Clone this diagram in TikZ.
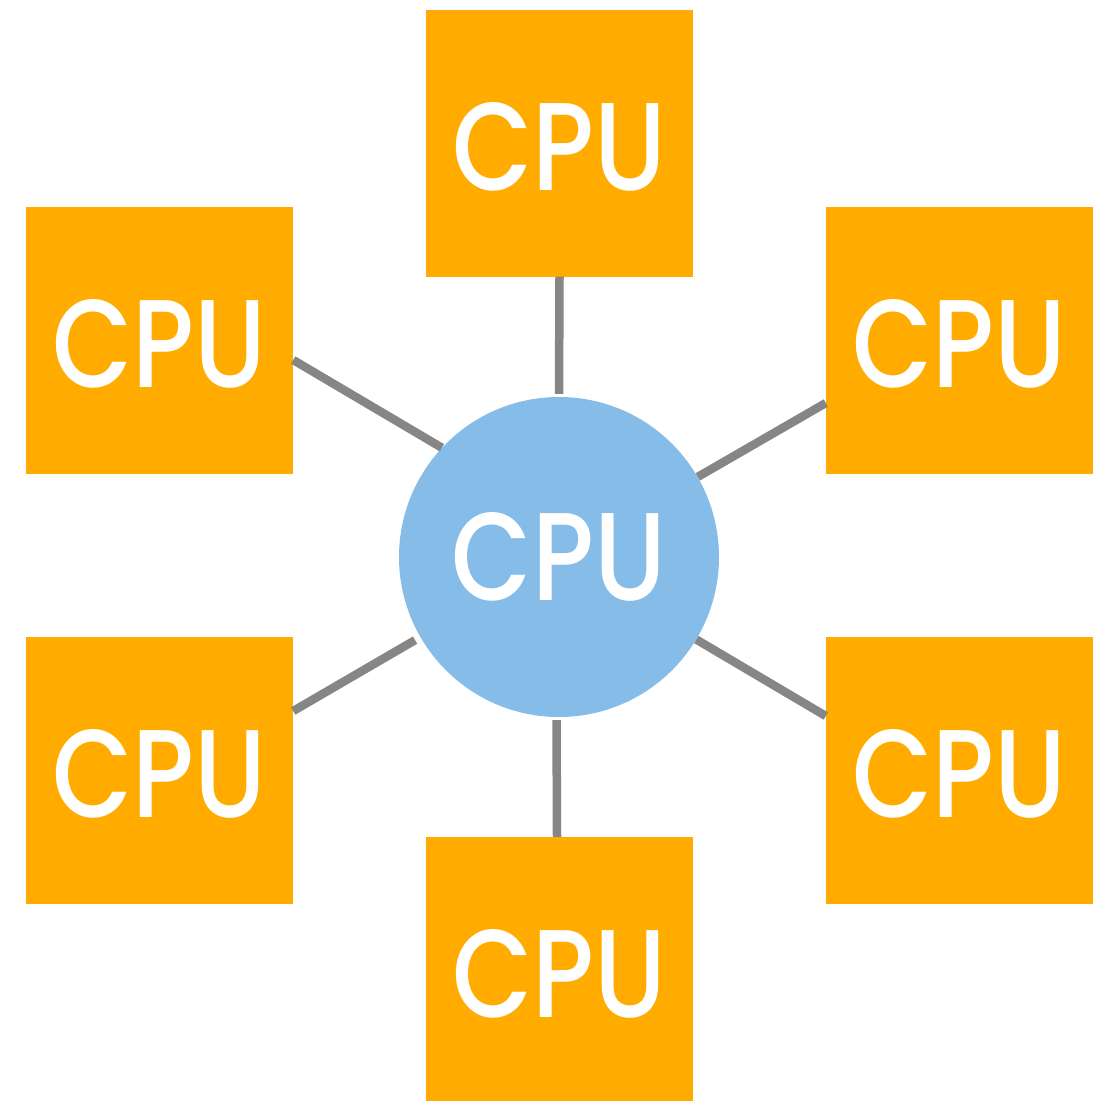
\documentclass[tikz,border=0pt]{standalone}
\usepackage{fontspec}
\IfFontExistsTF{Poppins Medium}
  {\newfontfamily\cpufont{Poppins Medium}}
  {\newfontfamily\cpufont[FakeBold=0.6]{Poppins}}
\definecolor{cpuorange}{HTML}{FFAB00}
\definecolor{hubblue}{HTML}{85BCE8}
\definecolor{linkgray}{HTML}{868686}
% label: squeezed to the width and cap height of the drawing's lettering
\newcommand{\cpulabel}{\resizebox{214pt}{88pt}{\cpufont CPU}}
\newcommand{\boxlabel}{\raisebox{-3pt}[88pt][0pt]{\cpulabel}}
\begin{document}
\begin{tikzpicture}[x=1pt,y=-1pt,
  cpubox/.style={fill=cpuorange,draw=none,minimum size=267pt,inner sep=0pt,
    text=white,font=\cpufont},
  hub/.style={circle,fill=hubblue,draw=none,minimum size=320pt,inner sep=0pt,
    text=white,font=\cpufont},
  link/.style={draw=linkgray,line width=8.5pt,line cap=butt}]
  \useasboundingbox (0,0) rectangle (1105,1100);
  \clip (0,0) rectangle (1105,1100);

  % peripheral processors
  \node[cpubox] (t)  at (559.5,143)   {\boxlabel};
  \node[cpubox] (lt) at (159.5,340)   {\boxlabel};
  \node[cpubox] (rt) at (959.5,340)   {\boxlabel};
  \node[cpubox] (lb) at (159.5,770)   {\boxlabel};
  \node[cpubox] (rb) at (959.5,770)   {\boxlabel};
  \node[cpubox] (b)  at (559.5,970.5) {\boxlabel};

  % central processor
  \node[hub] (c) at (559,557) {\cpulabel};

  % links (yshift is in page direction: negative moves down)
  \draw[link,shorten >=3pt] (t.south) -- (c.north);
  \draw[link] ([yshift=-20pt]lt.east) -- (c.137);
  \draw[link] ([yshift=-63pt]rt.west) -- (c.30);
  \draw[link,shorten >=6pt] ([yshift=59pt]lb.east) -- (c.210);
  \draw[link] ([yshift=54pt]rb.west) -- (c.-31);
  \draw[link,shorten <=3pt] ([xshift=-2.5pt]c.south) -- ([xshift=-2.5pt]b.north);
\end{tikzpicture}
\end{document}
